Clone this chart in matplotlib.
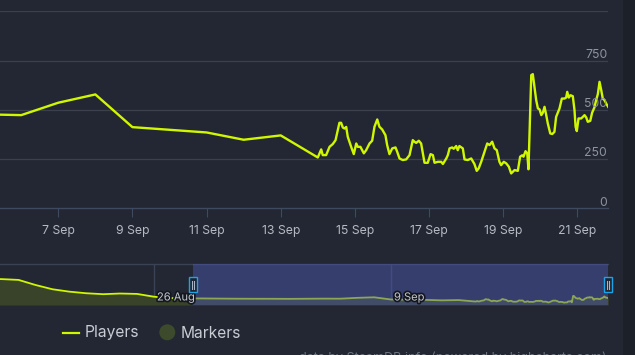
import numpy as np
import pandas as pd
import matplotlib
matplotlib.use('Agg')
import matplotlib.pyplot as plt
import matplotlib.transforms as mtransforms
import matplotlib.patheffects as pe
from matplotlib.patches import Rectangle, Circle
from matplotlib.lines import Line2D

plt.rcParams['font.family'] = ['Inter', 'DejaVu Sans']

# ---------------- data ----------------
daily_dates = ['2023-09-05', '2023-09-06', '2023-09-07', '2023-09-08',
               '2023-09-09', '2023-09-11', '2023-09-12', '2023-09-13']
daily_players = [477, 473, 536, 578, 412, 385, 348, 370]

hourly_start = '2023-09-14 00:00'
hourly_offsets = [0, 2.2, 3.2, 5.4, 7.6, 9.7, 11.5, 14.0, 15.1, 16.2,
                  17.3, 18.4, 19.4, 21.6, 23.3, 24.9, 25.9, 27.6, 29.8, 31.3,
                  33.5, 35.2, 36.7, 38.5, 39.9, 41.7, 43.8, 44.9, 46.4, 48.2,
                  50.3, 51.4, 52.9, 55.0, 57.2, 59.4, 61.5, 62.6, 63.7, 65.4,
                  66.9, 69.1, 71.2, 73.0, 74.5, 75.6, 77.7, 79.9, 81.0, 83.2,
                  84.2, 85.3, 87.0, 88.0, 89.6, 90.6, 91.7, 93.9, 95.0, 97.1,
                  99.3, 101.4, 102.9, 104.2, 105.8, 107.9, 109.7, 111.2, 112.9, 114.4,
                  115.9, 117.6, 118.7, 120.4, 122.0, 123.7, 125.2, 127.4, 129.5, 131.0,
                  132.3, 133.2, 134.5, 135.6, 136.4, 138.2, 139.2, 140.3, 141.4, 142.5,
                  143.6, 144.7, 145.7, 146.8, 147.9, 148.9, 150.5, 151.8, 153.2, 154.3,
                  155.4, 156.5, 158.0, 159.7, 160.8, 161.5, 162.5, 163.6, 165.1, 166.2,
                  166.9, 167.7, 168.8, 170.5, 171.6, 172.7, 173.8, 174.8, 176.4, 177.6,
                  179.1, 180.2, 181.3, 182.4, 183.5, 184.5, 185.6, 186.7, 188.0]
hourly_players = [258, 299, 270, 270, 312, 326, 346, 434, 434, 410,
                  405, 413, 363, 312, 275, 329, 312, 312, 279, 295,
                  329, 343, 414, 451, 414, 400, 371, 321, 275, 304,
                  309, 287, 253, 245, 248, 270, 346, 338, 332, 343,
                  329, 231, 231, 275, 270, 231, 236, 236, 225, 253,
                  270, 304, 309, 302, 316, 295, 316, 304, 248, 245,
                  253, 225, 190, 203, 236, 287, 329, 321, 338, 304,
                  295, 236, 219, 236, 228, 211, 177, 194, 190, 262,
                  269, 262, 290, 279, 198, 676, 681, 616, 549, 507,
                  502, 473, 485, 515, 473, 431, 380, 377, 388, 464,
                  485, 507, 557, 557, 562, 591, 562, 574, 569, 498,
                  414, 392, 456, 456, 464, 473, 461, 439, 444, 485,
                  512, 549, 579, 642, 600, 557, 549, 532, 515]

nav_dates = pd.date_range('2023-08-16', '2023-09-04', freq='D')
nav_players = [1960, 1940, 1880, 1500, 1180, 1000, 880, 810, 860, 830,
               620, 520, 500, 490, 480, 470, 470, 465, 460, 470]

y_ticks = [0, 250, 500, 750]
y_grid = [250, 500, 750, 1000]
x_tick_dates = pd.date_range('2023-09-05', '2023-09-21', freq='2D')
x_tick_labels = ['5 Sep', '7 Sep', '9 Sep', '11 Sep', '13 Sep', '15 Sep',
                 '17 Sep', '19 Sep', '21 Sep']
nav_label_dates = pd.to_datetime(['2023-08-26', '2023-09-09'])
nav_labels = ['26 Aug', '9 Sep']
legend_labels = ['Players', 'Markers']
credit = 'data by SteamDB.info (powered by highcharts.com)'

# ---------------- series ----------------
t_daily = pd.to_datetime(daily_dates)
t_hourly = pd.Timestamp(hourly_start) + pd.to_timedelta(hourly_offsets, unit='h')
t_main = t_daily.append(t_hourly)
v_main = np.array(daily_players + hourly_players, dtype=float)

t_nav = nav_dates.append(t_main)
v_nav = np.array(nav_players + list(v_main), dtype=float)

# ---------------- style ----------------
BG = '#222733'
LINE = '#d0f700'
GRID = '#3a414d'
AXIS = '#3d4a60'
W, H = 635, 355

fig = plt.figure(figsize=(W / 100, H / 100), dpi=100, facecolor=BG)

def fy(py):
    return 1 - py / H

# main axes
ax_l, ax_r, ax_t, ax_b = 0, 607.7, 11.3, 208.3
ax = fig.add_axes([ax_l / W, fy(ax_b), (ax_r - ax_l) / W, (ax_b - ax_t) / H])
ax.set_facecolor('none')
day = pd.Timedelta(days=1)
x_left = pd.Timestamp('2023-09-07') - (58.3 / 37.07) * day
x_right = pd.Timestamp('2023-09-07') + ((ax_r - 58.3) / 37.07) * day
ax.set_xlim(x_left, x_right)
ax.set_ylim(0, 1000)
for s in ['top', 'left', 'right']:
    ax.spines[s].set_visible(False)
ax.spines['bottom'].set_color(AXIS)
ax.spines['bottom'].set_linewidth(1.0)
for g in y_grid:
    ax.axhline(g, color=GRID, lw=0.9, zorder=0)
ax.set_yticks([])
in_range = [d for d in x_tick_dates if x_left <= d <= x_right]
ax.set_xticks(in_range)
ax.tick_params(axis='x', length=6.5, width=0.8, color=AXIS, direction='out',
               labelbottom=False)
ax.plot(t_main, v_main, color=LINE, lw=1.7, solid_joinstyle='round', zorder=3)

# y labels inside right
ytrans = mtransforms.blended_transform_factory(ax.transAxes, ax.transData)
ytrans = mtransforms.offset_copy(ytrans, fig=fig, x=-0.5, y=2.6, units='dots')
for v in y_ticks:
    ax.text(1.0, v, str(v), transform=ytrans, ha='right', va='baseline',
            fontsize=8.8, color='#8e949e')

# x labels
xtrans = mtransforms.blended_transform_factory(ax.transData, fig.transFigure)
for d, lab in zip(x_tick_dates, x_tick_labels):
    ax.text(d, fy(231), lab, transform=xtrans, ha='center', va='center',
            fontsize=8.8, color='#b4bac2', clip_on=False)

# navigator
n_t, n_b = 264.3, 305
axn = fig.add_axes([ax_l / W, fy(n_b), (ax_r - ax_l) / W, (n_b - n_t) / H])
axn.set_facecolor('none')
n_px_day = 237 / 14.0
n_left = nav_label_dates[0] - (154 / n_px_day) * day
n_right = nav_label_dates[0] + ((ax_r - 154) / n_px_day) * day
axn.set_xlim(n_left, n_right)
axn.set_ylim(0, 3050)
for s in ['bottom', 'left', 'right']:
    axn.spines[s].set_visible(False)
axn.spines['top'].set_color('#3a4356')
axn.spines['top'].set_linewidth(1.0)
axn.set_xticks([])
axn.set_yticks([])
for d in nav_label_dates:
    axn.axvline(d, color='#3a4356', lw=1.0, zorder=0)
axn.fill_between(t_nav, v_nav, 0, color='#39432a', lw=0, zorder=1)
axn.plot(t_nav, v_nav, color=LINE, lw=1.3, zorder=2)
sel_start = nav_label_dates[0] + (39 / n_px_day) * day
axn.axvspan(sel_start, n_right, color='#4a56a8', alpha=0.5, lw=0, zorder=3)
ntrans = mtransforms.blended_transform_factory(axn.transData, fig.transFigure)
ntrans = mtransforms.offset_copy(ntrans, fig=fig, x=3, y=0, units='dots')
for d, lab in zip(nav_label_dates, nav_labels):
    axn.text(d, fy(297.5), lab, transform=ntrans, ha='left', va='center',
             fontsize=8, color='#c4c8d0', zorder=5,
             path_effects=[pe.withStroke(linewidth=2.5, foreground='#14171e')])

# handles (pixel coords)
def handle(xc):
    x0 = xc - 4
    r = Rectangle((x0, H - 292.3), 8, 15, transform=None, facecolor='#1f2430',
                  edgecolor='#1ea3e6', lw=1.0, zorder=10)
    fig.patches.append(r)
    for dx in (-1.2, 1.2):
        fig.lines.append(Line2D([xc + dx, xc + dx], [H - 289, H - 280.5],
                                transform=None, color='#a9b4c6', lw=0.8, zorder=11))

fig.canvas.draw()
sx = axn.transData.transform((matplotlib.dates.date2num(sel_start), 0))[0]
handle(sx)
ex = axn.transData.transform((matplotlib.dates.date2num(n_right), 0))[0]
handle(ex + 0.5)

# legend
fig.lines.append(Line2D([63.3 / W, 78.7 / W], [fy(332.7)] * 2, transform=fig.transFigure,
                        color=LINE, lw=1.6))
fig.text(84.3 / W, fy(333), legend_labels[0], ha='left', va='center',
         fontsize=11.2, color='#c8cdd4')
fig.patches.append(Circle((167.3, H - 332.3), 8, transform=None,
                          facecolor='#3d4a2b', edgecolor='none'))
fig.text(180.5 / W, fy(333), legend_labels[1], ha='left', va='center',
         fontsize=11.2, color='#c8cdd4')

# credit (cut at bottom)
fig.text(607 / W, fy(351.5), credit, ha='right', va='top', fontsize=9,
         color='#6c7480')

# right strip
fig.patches.append(Rectangle((623 / W, 0), 12 / W, 1, transform=fig.transFigure,
                             facecolor='#1c2029', edgecolor='none', zorder=0))

fig.savefig('out.png', dpi=100, facecolor=BG)
